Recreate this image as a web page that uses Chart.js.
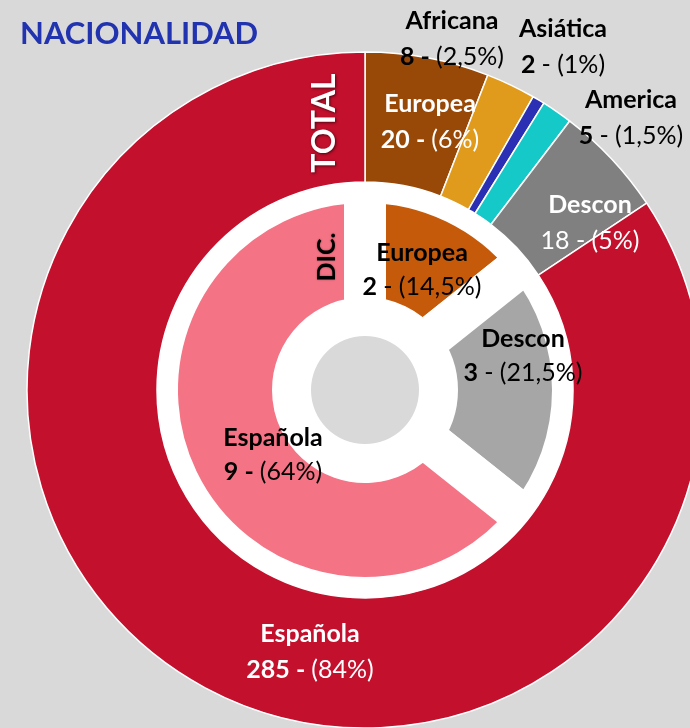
<!DOCTYPE html>
<html><head><meta charset="utf-8">
<script src="https://cdn.jsdelivr.net/npm/chart.js@4"></script>
<style>
html,body{margin:0;padding:0;background:#d9d9d9;overflow:hidden}
canvas{display:block}
</style></head>
<body>
<canvas id="c" width="690" height="728"></canvas>
<script>
// ---- data ----
const chartTitle = 'NACIONALIDAD';
const totalRingLabel = 'TOTAL';
const dicRingLabel = 'DIC.';

const totalCategories = ['Europea', 'Africana', 'Asiática', 'America', 'Descon', 'Española'];
const totalValues = [20, 8, 2, 5, 18, 285];
const totalPercentLabels = ['6%', '2,5%', '1%', '1,5%', '5%', '84%'];

const dicCategories = ['Europea', 'Descon', 'Española'];
const dicValues = [2, 3, 9];
const dicPercentLabels = ['14,5%', '21,5%', '64%'];

// ---- styles ----
const totalColors = ['#984807', '#e09b1c', '#2a2fb4', '#15c9c9', '#808080', '#c3102d'];
const dicColors = ['#c55a0b', '#a6a6a6', '#f47385'];
const totalTextColors = ['#ffffff', '#000000', '#000000', '#000000', '#ffffff', '#ffffff'];
const dicTextColors = ['#000000', '#000000', '#000000'];
// [value bold, dash bold]
const totalWeights = [[true, true], [true, true], [true, false], [true, false], [false, false], [true, true]];
const dicWeights = [[true, false], [true, false], [true, true]];
// label anchor relative to pie centre: [centre x offset, first-line baseline offset]
const totalLabelPos = [[65, -278], [87, -361], [198, -353], [266, -282], [225, -177], [-55, 252]];
const dicLabelPos = [[57, -129], [158, -43], [-92, 56]];
const FONT = 'Lato, "Open Sans", sans-serif';
const FS = 25;

function drawRich(ctx, parts, cx, y, color) {
  let w = 0;
  parts.forEach(p => { ctx.font = (p.bold ? 'bold ' : '') + FS + 'px ' + FONT; p.w = ctx.measureText(p.t).width; w += p.w; });
  let x = cx - w / 2;
  ctx.fillStyle = color;
  ctx.textAlign = 'left';
  ctx.textBaseline = 'alphabetic';
  parts.forEach(p => { ctx.font = (p.bold ? 'bold ' : '') + FS + 'px ' + FONT; ctx.fillText(p.t, x, y); x += p.w; });
}

function drawLabels(ctx, cx, cy, cats, vals, pcts, pos, colors, weights, gap) {
  cats.forEach((name, i) => {
    const x = cx + pos[i][0];
    const y = cy + pos[i][1];
    drawRich(ctx, [{t: name, bold: true}], x, y, colors[i]);
    drawRich(ctx, [
      {t: vals[i] + ' ', bold: weights[i][0]},
      {t: '- ', bold: weights[i][1]},
      {t: '(' + pcts[i] + ')', bold: false}
    ], x, y + gap, colors[i]);
  });
}

const labelPlugin = {
  id: 'richLabels',
  afterDraw(chart) {
    const ctx = chart.ctx;
    const a = chart.getDatasetMeta(0).data[0];
    const cx = a.x, cy = a.y;
    ctx.save();
    // title
    ctx.font = 'bold 31px ' + FONT;
    ctx.fillStyle = '#2233b0';
    ctx.textAlign = 'left';
    ctx.textBaseline = 'alphabetic';
    ctx.fillText(chartTitle, 20, 44);

    drawLabels(ctx, cx, cy, totalCategories, totalValues, totalPercentLabels, totalLabelPos, totalTextColors, totalWeights, 36);
    drawLabels(ctx, cx, cy, dicCategories, dicValues, dicPercentLabels, dicLabelPos, dicTextColors, dicWeights, 34);

    // vertical ring labels
    ctx.save();
    ctx.translate(cx - 30, cy - 267);
    ctx.rotate(-Math.PI / 2);
    ctx.font = 'bold 32px ' + FONT;
    ctx.textAlign = 'center';
    ctx.shadowColor = 'rgba(0,0,0,0.6)';
    ctx.shadowBlur = 3;
    ctx.shadowOffsetX = 1; ctx.shadowOffsetY = 1;
    ctx.fillStyle = '#ffffff';
    ctx.fillText(totalRingLabel, 0, 0);
    ctx.restore();

    ctx.save();
    ctx.translate(cx - 30, cy - 133);
    ctx.rotate(-Math.PI / 2);
    ctx.font = 'bold 25px ' + FONT;
    ctx.textAlign = 'center';
    ctx.shadowColor = 'rgba(0,0,0,0.4)';
    ctx.shadowBlur = 2;
    ctx.fillStyle = '#000000';
    ctx.fillText(dicRingLabel, 0, 0);
    ctx.restore();

    ctx.restore();
  }
};

new Chart(document.getElementById('c'), {
  type: 'doughnut',
  data: {
    labels: totalCategories,
    datasets: [
      {data: totalValues, backgroundColor: totalColors, borderColor: '#ffffff', borderWidth: 1.5, weight: 130, order: 1},
      {data: dicValues, backgroundColor: dicColors, borderColor: '#ffffff', borderWidth: 42, borderAlign: 'center', borderJoinStyle: 'round', weight: 136, order: 2},
      {data: [1], backgroundColor: '#ffffff', borderWidth: 0, weight: 18, order: 3},
      {data: [1], backgroundColor: '#d9d9d9', borderWidth: 0, weight: 54, order: 0}
    ]
  },
  options: {
    responsive: false,
    animation: false,
    events: [],
    radius: 338,
    cutout: 0,
    rotation: 0,
    layout: {padding: {left: 40, right: 0, top: 52, bottom: 0}},
    plugins: {legend: {display: false}, tooltip: {enabled: false}, title: {display: false}}
  },
  plugins: [labelPlugin]
});
</script>
</body></html>
